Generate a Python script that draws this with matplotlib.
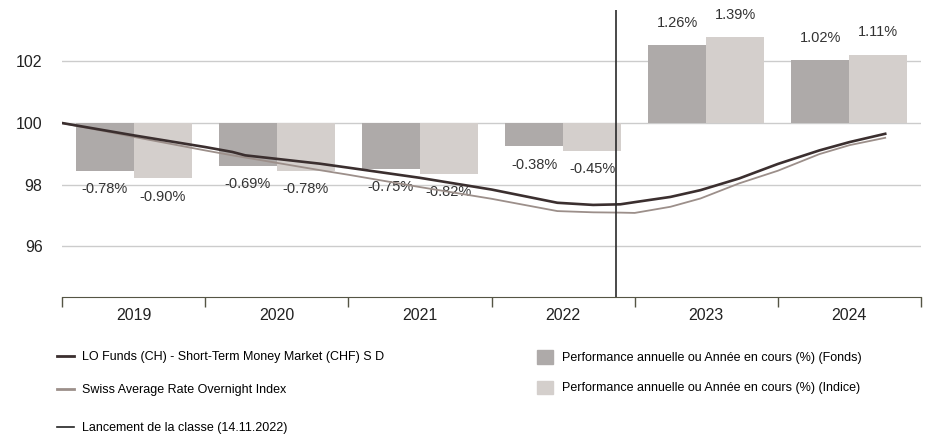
import matplotlib
matplotlib.use('Agg')
import matplotlib.pyplot as plt
from matplotlib.lines import Line2D
from matplotlib.patches import Patch
import numpy as np

plt.rcParams['font.family'] = ['Liberation Sans', 'DejaVu Sans']

years = [2019, 2020, 2021, 2022, 2023, 2024]
perf_fund = [-0.78, -0.69, -0.75, -0.38, 1.26, 1.02]
perf_index = [-0.90, -0.78, -0.82, -0.45, 1.39, 1.11]

# fractional year dates for the rebased lines
line_t = [2019.0, 2019.5, 2020.0, 2020.19, 2020.28, 2020.8, 2021.0, 2021.5, 2022.0,
          2022.46, 2022.71, 2022.9, 2023.0, 2023.25, 2023.46, 2023.73, 2024.0,
          2024.29, 2024.5, 2024.75]
fund_line = [100.0, 99.60, 99.22, 99.06, 98.95, 98.68, 98.55, 98.22, 97.84,
             97.41, 97.34, 97.36, 97.43, 97.60, 97.82, 98.20, 98.67,
             99.11, 99.38, 99.65]
index_line = [100.0, 99.55, 99.11, 98.95, 98.88, 98.47, 98.32, 97.92, 97.54,
              97.14, 97.10, 97.09, 97.08, 97.28, 97.55, 98.04, 98.45,
              98.99, 99.28, 99.52]
launch = 2022 + 318 / 365

fund_col = '#3b2f2f'
index_col = '#9c8f8a'
bar_fund = '#aeaaa9'
bar_index = '#d4cfcc'

fig = plt.figure(figsize=(9.28, 4.34), dpi=100)
ax = fig.add_axes([62 / 928, 1 - 297 / 434, 859 / 928, 287 / 434])
ylo, yhi = 94.35, 103.67
ax.set_ylim(ylo, yhi)
ax.set_xlim(2019, 2025)

# bars on a twin axis where 0% sits on the 100 line
ax2 = ax.twinx()
ax2.set_ylim((ylo - 100) / 2, (yhi - 100) / 2)
ax2.axis('off')
x = np.array(years) + 0.5
w = 0.405
ax2.bar(x - w / 2, perf_fund, width=w, color=bar_fund, zorder=1)
ax2.bar(x + w / 2, perf_index, width=w, color=bar_index, zorder=1)
for xs, vals in [(x - w / 2, perf_fund), (x + w / 2, perf_index)]:
    for xi, v in zip(xs, vals):
        off = 11 if v > 0 else -8
        ax2.annotate(f'{v:.2f}%', (xi, v), xytext=(0, off), textcoords='offset points',
                     ha='center', va='bottom' if v > 0 else 'top', fontsize=10.5,
                     color='#333333')

# lines on top
ax3 = ax.twinx()
ax3.set_ylim(ylo, yhi)
ax3.axis('off')
ax3.plot(line_t, index_line, color=index_col, lw=1.3)
ax3.plot(line_t, fund_line, color=fund_col, lw=1.9)
ax3.axvline(launch, color='#2a2a2a', lw=1.2)

ax.set_yticks([96, 98, 100, 102])
ax.grid(axis='y', color='#cccccc', lw=1)
ax.set_axisbelow(True)
ax.tick_params(axis='y', length=0, labelsize=11.5, colors='#222222', pad=14)
ax.set_xticks(range(2019, 2026))
ax.set_xticks(x, minor=True)
ax.set_xticklabels([])
ax.set_xticklabels([str(y) for y in years], minor=True)
ax.tick_params(axis='x', which='major', length=7, width=1, color='#555544', direction='out')
ax.tick_params(axis='x', which='minor', length=0, labelsize=11.5, colors='#222222', pad=8)
for s in ['top', 'right', 'left']:
    ax.spines[s].set_visible(False)
ax.spines['bottom'].set_color('#555544')

h1 = [Line2D([], [], color=fund_col, lw=2), Line2D([], [], color=index_col, lw=2)]
leg1 = fig.legend(h1, ['LO Funds (CH) - Short-Term Money Market (CHF) S D',
                       'Swiss Average Rate Overnight Index'],
                  loc='upper left', bbox_to_anchor=(46 / 928, 1 - 340 / 434), frameon=False,
                  fontsize=9, handlelength=1.3, handletextpad=0.7, labelspacing=1.67)
leg2 = fig.legend([Line2D([], [], color='#222222', lw=1.2)], ['Lancement de la classe (14.11.2022)'],
                  loc='upper left', bbox_to_anchor=(46 / 928, 1 - 411 / 434), frameon=False,
                  fontsize=9, handlelength=1.3, handletextpad=0.7)
h3 = [Patch(color=bar_fund), Patch(color=bar_index)]
leg3 = fig.legend(h3, ['Performance annuelle ou Année en cours (%) (Fonds)',
                       'Performance annuelle ou Année en cours (%) (Indice)'],
                  loc='upper left', bbox_to_anchor=(526 / 928, 1 - 339 / 434), frameon=False,
                  fontsize=9, handlelength=1.3, handleheight=1.3, handletextpad=0.7,
                  labelspacing=1.3)

fig.savefig('out.png', dpi=100)
